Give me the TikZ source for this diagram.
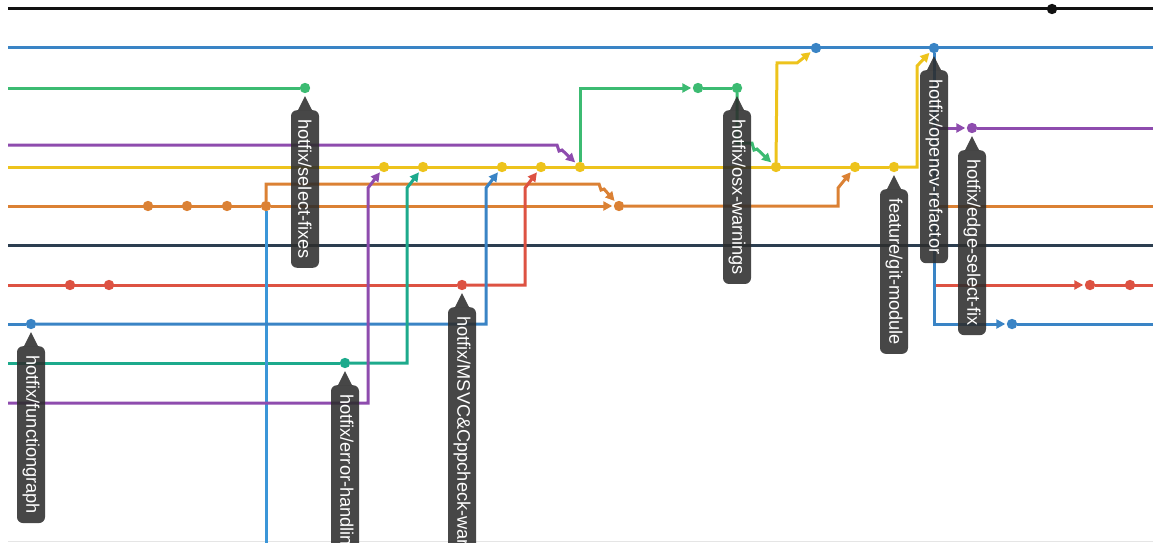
\documentclass[tikz,border=0pt]{standalone}
\usepackage{fontspec}
\newfontfamily\lblfont{Liberation Sans}
\usetikzlibrary{arrows.meta}
\definecolor{cblack}{HTML}{111111}
\definecolor{cblue}{HTML}{3A84C5}
\definecolor{clblue}{HTML}{3B96D8}
\definecolor{cgreen}{HTML}{3CBB72}
\definecolor{cpurple}{HTML}{8E4CAE}
\definecolor{cyellow}{HTML}{EDC31C}
\definecolor{corange}{HTML}{DB8134}
\definecolor{cnavy}{HTML}{2C3E50}
\definecolor{cred}{HTML}{DD5242}
\definecolor{cteal}{HTML}{1DAA8C}
\definecolor{lblbg}{HTML}{2D2D2D}
\tikzset{
  lane/.style={line width=3pt},
  arr/.style={-{Triangle[length=9pt,width=9pt]}, shorten >=1.5pt},
  dot/.style={circle, inner sep=0pt, minimum size=10pt},
  lbl/.style={rotate=-90, anchor=west, fill=lblbg, fill opacity=0.88, text opacity=1,
    text=white, rounded corners=6pt, minimum height=28pt, inner ysep=0pt, inner xsep=9pt,
    font=\lblfont\fontsize{18.2}{21}\selectfont},
  pointer/.style={fill=lblbg, fill opacity=0.88}
}
\newcommand\branchlabel[3]{%
  \node[lbl] (#1) at ([yshift=-22pt]#2.center) {#3\hspace{7pt}};
  \fill[pointer] ([xshift=-7pt]#1.west) -- ([yshift=-3pt]#2.south) -- ([xshift=7pt]#1.west) -- cycle;
}
\newcommand\commitdots[2]{%
  \foreach \d in {#2} {\fill[#1] (\d.center) circle (5.2pt);}
}
\begin{document}
\begin{tikzpicture}[x=1pt,y=-1pt]
\useasboundingbox (0,0) rectangle (1153,543);
% free ends
\coordinate (k0) at (8,9);    \coordinate (k1) at (1153,9);
\coordinate (b0) at (8,48);   \coordinate (b1) at (1153,48);
\coordinate (g0) at (8,88);
\coordinate (p0) at (8,145);
\coordinate (p2) at (1153,128);
\coordinate (y0) at (8,167);
\coordinate (o0) at (8,206);  \coordinate (o1) at (1153,206);
\coordinate (n0) at (8,245);  \coordinate (n1) at (1153,245);
\coordinate (r0) at (8,285);  \coordinate (r1) at (1153,285);
\coordinate (c0) at (8,324);  \coordinate (c1) at (1153,324);
\coordinate (t0) at (8,363);
\coordinate (q0) at (8,403);
\coordinate (vb) at (266,543);
\coordinate (e0) at (8,541.5); \coordinate (e1) at (1153,541.5);
% commit nodes (filled at the end, on top of the lines)
\node[dot] (kd) at (1052,9) {};
\node[dot] (bd1) at (816,48) {};
\node[dot] (bd2) at (934,48) {};
\node[dot] (gd1) at (305,88) {};
\node[dot] (gd2) at (698,88) {};
\node[dot] (gd3) at (737,88) {};
\node[dot] (pd1) at (972,128) {};
\node[dot] (yd1) at (384,167) {};
\node[dot] (yd2) at (423,167) {};
\node[dot] (yd3) at (502,167) {};
\node[dot] (yd4) at (541,167) {};
\node[dot] (yd5) at (580,167) {};
\node[dot] (yd6) at (776,167) {};
\node[dot] (yd7) at (855,167) {};
\node[dot] (yd8) at (894,167) {};
\node[dot] (od1) at (148,206) {};
\node[dot] (od2) at (187,206) {};
\node[dot] (od3) at (227,206) {};
\node[dot] (od4) at (266,206) {};
\node[dot] (od5) at (619,206) {};
\node[dot] (rd1) at (70,285) {};
\node[dot] (rd2) at (109,285) {};
\node[dot] (rd3) at (462,285) {};
\node[dot] (rd4) at (1090,285) {};
\node[dot] (rd5) at (1130,285) {};
\node[dot] (bd3) at (31,324) {};
\node[dot] (bd4) at (1012,324) {};
\node[dot] (td1) at (345,363) {};
% lanes
\draw[line width=0.6pt, black!10] (e0) -- (e1);
\draw[lane, cblack] (k0) -- (k1);
\draw[lane, cblue] (b0) -- (b1);
\draw[lane, cgreen] (g0) -- (gd1);
\draw[lane, cgreen] (gd2) -- (gd3);
\draw[lane, cpurple] (pd1) -- (p2);
\draw[lane, cyellow] (y0) -- (yd8);
\draw[lane, corange] (o0) -- (od4);
\draw[lane, corange, arr] (od4) -- (od5);
\draw[lane, cnavy] (n0) -- (n1);
\draw[lane, cred] (r0) -- (rd3);
\draw[lane, cred] (rd4) -- (r1);
\draw[lane, cblue] (c0) -- (bd3);
\draw[lane, cblue] (bd4) -- (c1);
\draw[lane, cteal] (t0) -- (td1);
% branches and merges
\draw[lane, cpurple, arr] (p0) -- (557,145) -- (559,151) -- (562,150) -- (yd5);
\draw[lane, cgreen, arr] (yd5) -- (580,88) -- (gd2);
\draw[lane, cgreen, arr] (gd3) -- (737,143) -- (752,143) -- (754,150) -- (757,149) -- (yd6);
\draw[lane, cyellow, arr] (yd6) -- (777,63) -- (797,63) -- (bd1);
\draw[lane, cyellow, arr] (yd8) -- (917,167) -- (917,66) -- (bd2);
\draw[lane, corange, arr] (od4) -- (266,184) -- (599,184) -- (601,190) -- (604,189) -- (od5);
\draw[lane, corange, arr] (od5) -- (838,206) -- (838,188) -- (yd7);
\draw[lane, clblue] (od4) -- (vb);
\draw[lane, cred, arr] (rd3) -- (525,285) -- (525,188) -- (yd4);
\draw[lane, cblue, arr] (bd3) -- (486,324) -- (486,188) -- (yd3);
\draw[lane, cteal, arr] (td1) -- (407,363) -- (407,188) -- (yd2);
\draw[lane, cpurple, arr] (q0) -- (368,403) -- (368,188) -- (yd1);
\draw[lane, cpurple, arr] (bd2) -- (934,128) -- (pd1);
\draw[lane, corange] (bd2) -- (934,206) -- (o1);
\draw[lane, cred, arr] (bd2) -- (934,285) -- (rd4);
\draw[lane, cblue, arr] (bd2) -- (934,324) -- (bd4);
% commit dots
\commitdots{cblack}{kd}
\commitdots{cblue}{bd1,bd2,bd3,bd4}
\commitdots{cgreen}{gd1,gd2,gd3}
\commitdots{cpurple}{pd1}
\commitdots{cyellow}{yd1,yd2,yd3,yd4,yd5,yd6,yd7,yd8}
\commitdots{corange}{od1,od2,od3,od4,od5}
\commitdots{cred}{rd1,rd2,rd3,rd4,rd5}
\commitdots{cteal}{td1}
% labels
\branchlabel{L1}{gd1}{hotfix/select-fixes}
\branchlabel{L2}{gd3}{hotfix/osx-warnings}
\branchlabel{L3}{yd8}{feature/git-module}
\branchlabel{L4}{bd2}{hotfix/opencv-refactor}
\branchlabel{L5}{pd1}{hotfix/edge-select-fix}
\branchlabel{L6}{bd3}{hotfix/functiongraph}
\branchlabel{L7}{td1}{hotfix/error-handling}
\branchlabel{L8}{rd3}{hotfix/MSVC\&Cppcheck-warnings}
\end{tikzpicture}
\end{document}
